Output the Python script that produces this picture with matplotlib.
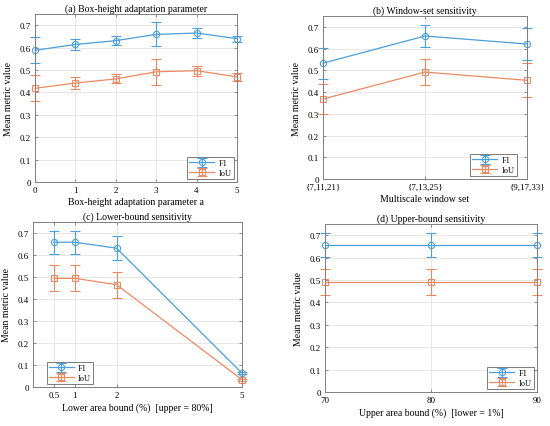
import matplotlib
matplotlib.use("Agg")
import matplotlib.pyplot as plt
import numpy as np

plt.rcParams['font.family'] = ['Liberation Serif', 'DejaVu Serif']
plt.rcParams['font.size'] = 6.5

BLUE = '#4a9fdc'
ORANGE = '#ea8a62'

# (a) Box-height adaptation parameter
a_x = [0, 1, 2, 3, 4, 5]
a_f1 = [0.588, 0.614, 0.631, 0.659, 0.665, 0.640]
a_f1_err = [0.058, 0.025, 0.019, 0.054, 0.022, 0.014]
a_iou = [0.418, 0.442, 0.460, 0.492, 0.497, 0.469]
a_iou_err = [0.058, 0.025, 0.020, 0.058, 0.022, 0.018]

# (b) Window-set sensitivity
b_labels = ['{7,11,21}', '{7,13,25}', '{9,17,33}']
b_f1 = [0.533, 0.658, 0.621]
b_f1_err = [0.071, 0.052, 0.072]
b_iou = [0.368, 0.492, 0.454]
b_iou_err = [0.068, 0.060, 0.078]

# (c) Lower-bound sensitivity
c_x = [0.5, 1, 2, 5]
c_f1 = [0.658, 0.658, 0.631, 0.063]
c_f1_err = [0.052, 0.052, 0.055, 0.005]
c_iou = [0.494, 0.494, 0.465, 0.033]
c_iou_err = [0.059, 0.059, 0.059, 0.005]

# (d) Upper-bound sensitivity
d_x = [70, 80, 90]
d_f1 = [0.655, 0.655, 0.655]
d_f1_err = [0.053, 0.053, 0.053]
d_iou = [0.491, 0.491, 0.491]
d_iou_err = [0.059, 0.059, 0.059]

W, H = 550, 427
fig = plt.figure(figsize=(W / 100, H / 100), dpi=100)

TFS = 7
LFS = 7
KFS = 6.5


def mkax(l, r, t, b):
    return fig.add_axes([l / W, 1 - b / H, (r - l) / W, (b - t) / H])


def style(ax):
    for s in ax.spines.values():
        s.set_color('#808080')
        s.set_linewidth(0.7)
    ax.tick_params(direction='in', top=True, right=True, length=2.5,
                   width=0.6, color='#808080', labelsize=KFS, pad=3)
    ax.grid(True, color='#e3e3e3', linewidth=0.6)
    ax.set_axisbelow(True)
    ax.set_ylim(0, 0.75)
    ax.set_yticks(np.arange(0, 0.71, 0.1))
    ax.set_yticklabels(['0'] + ['%.1f' % v for v in np.arange(0.1, 0.71, 0.1)])
    ax.set_ylabel('Mean metric value', fontsize=LFS, labelpad=5)


def draw(ax, x, f1, f1e, iou, iioue, loc, anchor=None):
    kw = dict(capsize=3.5, elinewidth=0.8, linewidth=0.9, markersize=4.5,
              markerfacecolor='none', markeredgewidth=0.8, capthick=0.8)
    for y, e, c, m, lab in [(f1, f1e, BLUE, 'o', 'F1'),
                            (iou, iioue, ORANGE, 's', 'IoU')]:
        cont = ax.errorbar(x, y, yerr=e, color=c, marker=m, label=lab, **kw)
        for art in cont.get_children():
            art.set_clip_on(False)
    extra = {}
    if anchor is not None:
        extra['bbox_to_anchor'] = anchor
    leg = ax.legend(loc=loc, fontsize=6, frameon=True, fancybox=False,
                    borderpad=0.25, handlelength=3.0, labelspacing=0.15,
                    handletextpad=0.5, borderaxespad=0.4, **extra)
    leg.get_frame().set_edgecolor('#404040')
    leg.get_frame().set_linewidth(0.6)


# Panel a
ax = mkax(35, 237, 15, 183)
style(ax)
draw(ax, a_x, a_f1, a_f1_err, a_iou, a_iou_err, 'lower right')
ax.set_xlim(0, 5)
ax.set_xticks(a_x)
ax.set_title('(a) Box-height adaptation parameter', fontsize=TFS, pad=2)
ax.set_xlabel('Box-height adaptation parameter a', fontsize=LFS, labelpad=2)

# Panel b
ax = mkax(323, 527, 17, 180)
style(ax)
bx = np.arange(1, len(b_labels) + 1)
draw(ax, bx, b_f1, b_f1_err, b_iou, b_iou_err, 'lower right',
     anchor=(0.965, 0.0))
ax.set_xlim(1, 3)
ax.set_xticks(bx)
ax.set_xticklabels(b_labels)
ax.set_title('(b) Window-set sensitivity', fontsize=TFS, pad=2)
ax.set_xlabel('Multiscale window set', fontsize=LFS, labelpad=2)

# Panel c
ax = mkax(33, 242, 223, 388)
style(ax)
draw(ax, c_x, c_f1, c_f1_err, c_iou, c_iou_err, 'lower left',
     anchor=(0.05, 0.0))
ax.set_xlim(0, 5)
ax.set_xticks(c_x)
ax.set_xticklabels(['0.5', '1', '2', '5'])
ax.set_title('(c) Lower-bound sensitivity', fontsize=TFS, pad=2)
ax.set_xlabel('Lower area bound (%)  [upper = 80%]', fontsize=LFS, labelpad=2)

# Panel d
ax = mkax(325, 537, 225, 393)
style(ax)
draw(ax, d_x, d_f1, d_f1_err, d_iou, d_iou_err, 'lower right')
ax.set_xlim(70, 90)
ax.set_xticks(d_x)
ax.set_title('(d) Upper-bound sensitivity', fontsize=TFS, pad=2)
ax.set_xlabel('Upper area bound (%)  [lower = 1%]', fontsize=LFS, labelpad=2)

fig.savefig('out.png', dpi=100)
